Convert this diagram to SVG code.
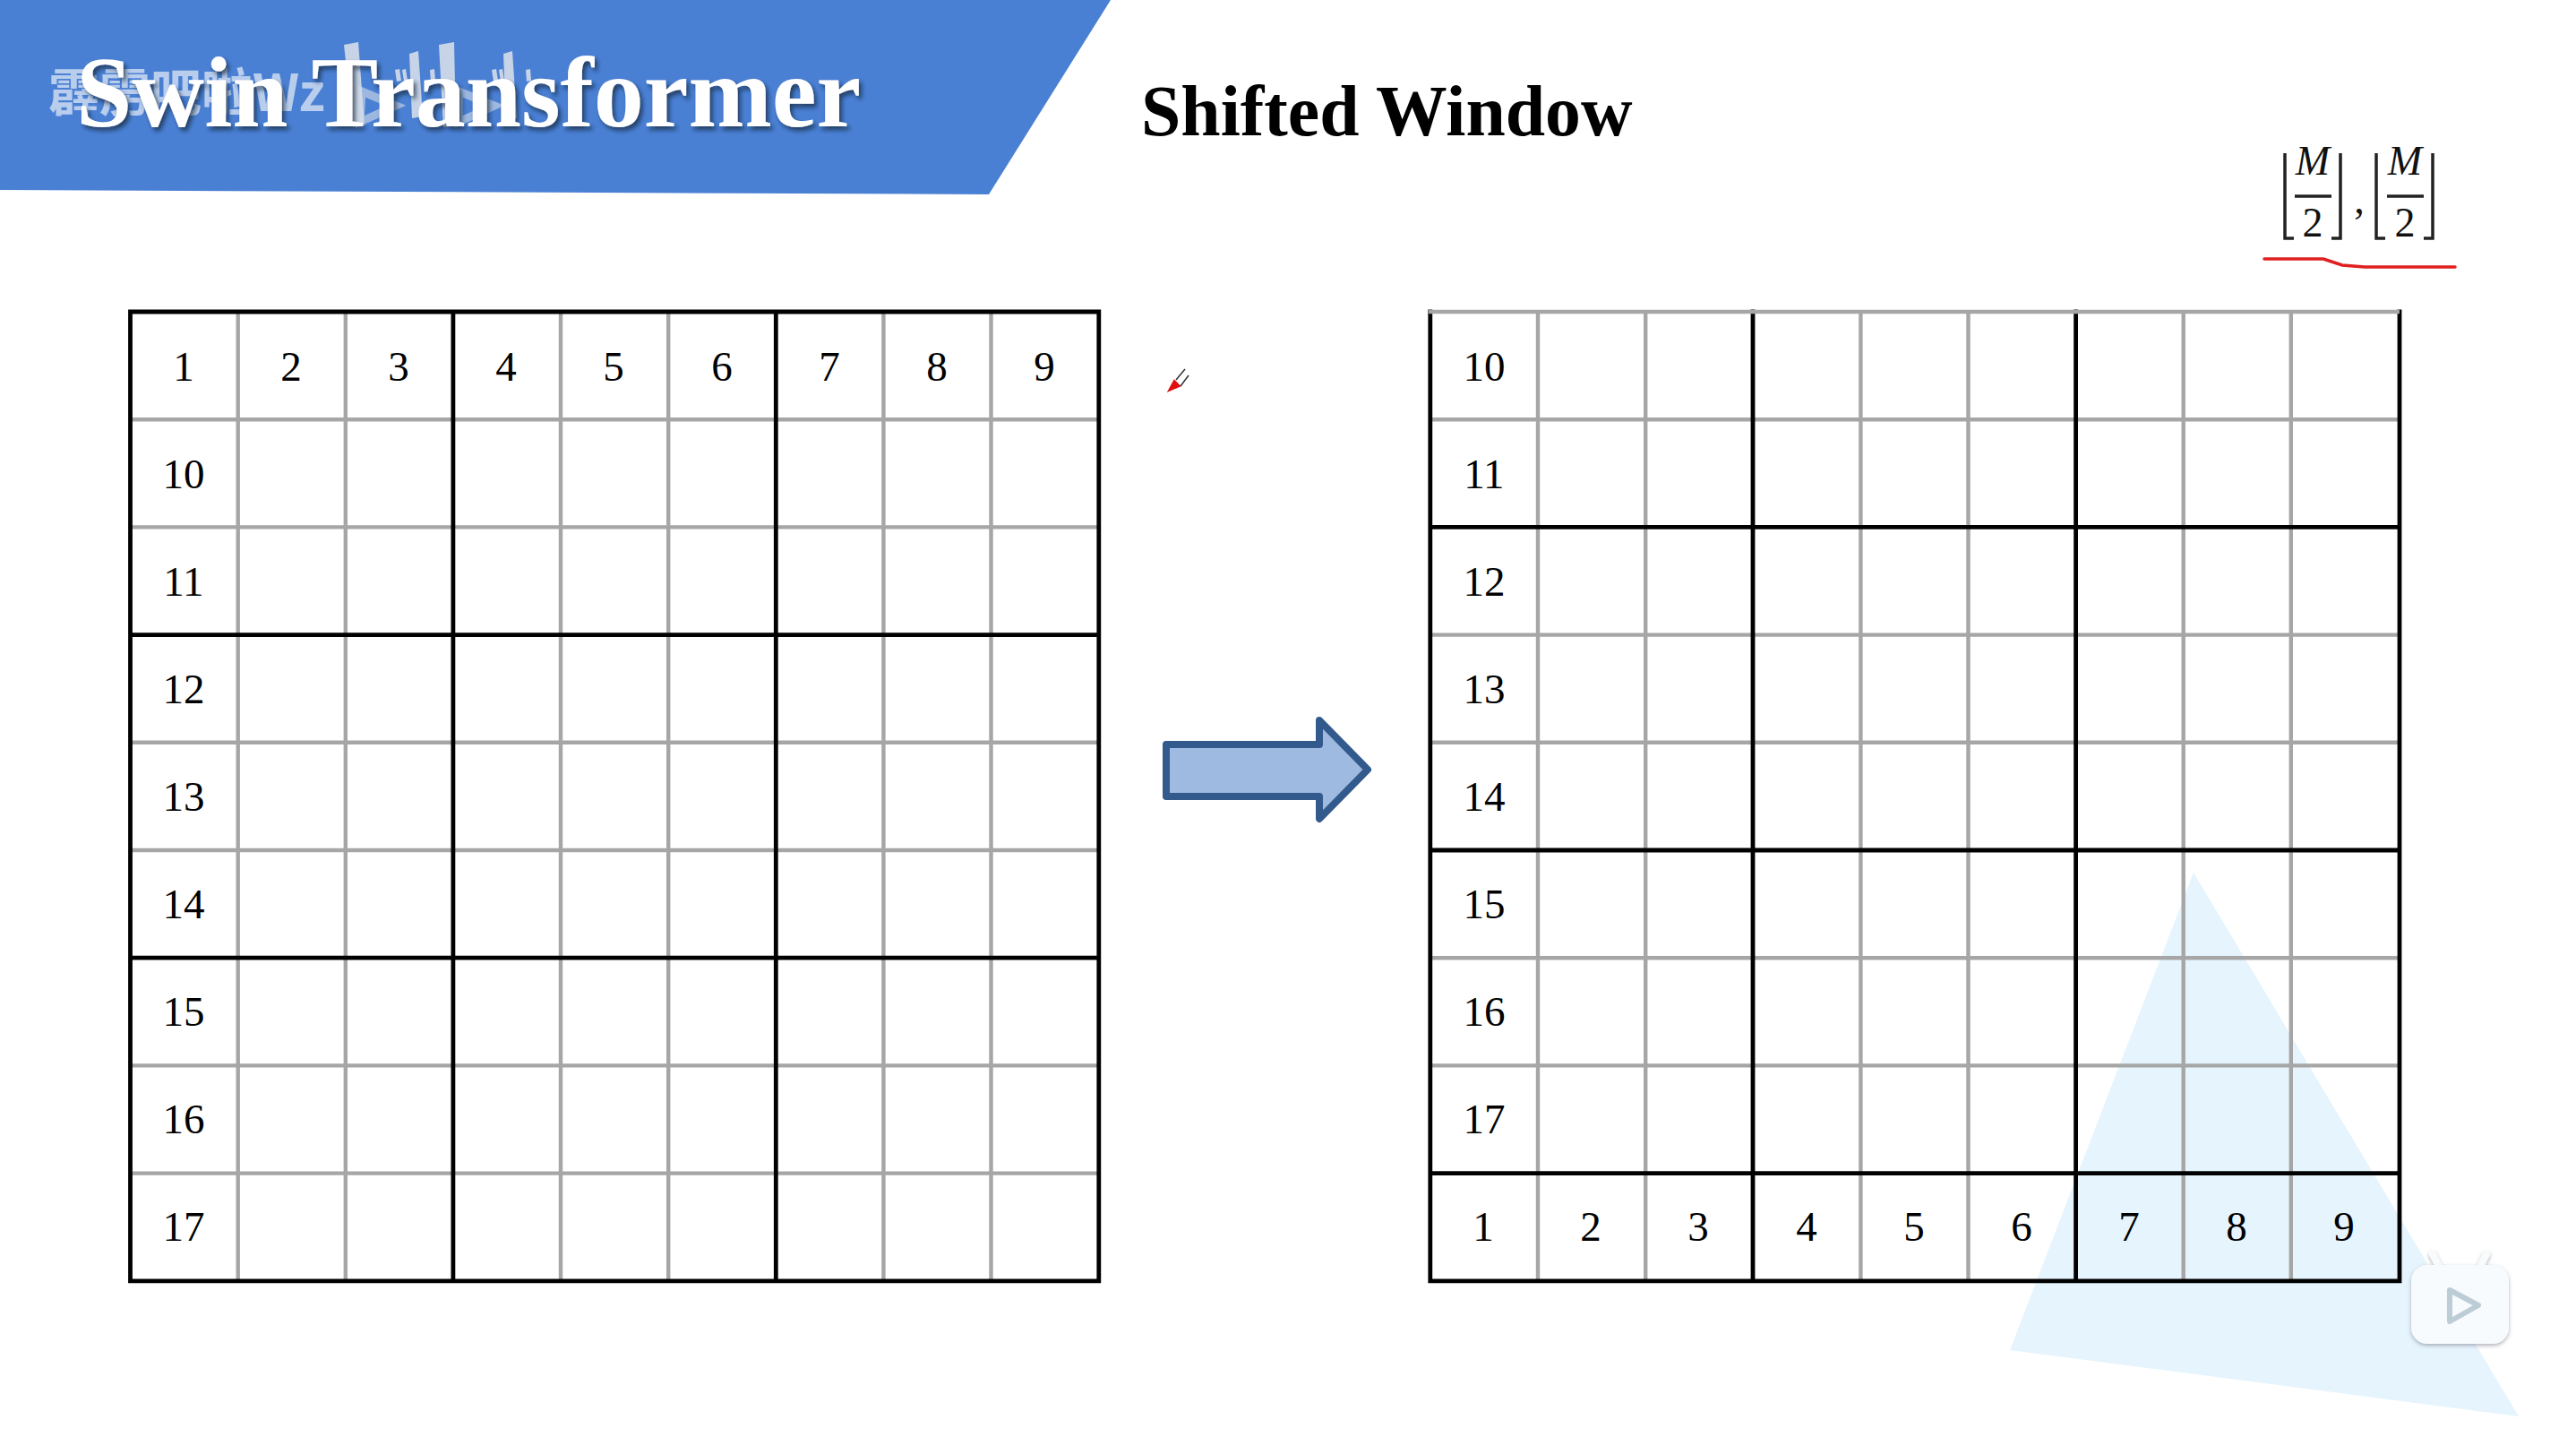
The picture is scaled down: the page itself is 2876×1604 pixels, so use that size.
<svg xmlns="http://www.w3.org/2000/svg" width="2876" height="1604" viewBox="0 0 2876 1604">
<defs>
<style>
.g{stroke:#a6a6a6;stroke-width:4.4;fill:none}
.k{stroke:#000;stroke-width:4.8;fill:none;stroke-linecap:square}
.n{font-family:"Liberation Serif","Times New Roman",serif;font-size:47px;fill:#000;text-anchor:middle}
.m{font-family:"Liberation Serif",serif;font-size:46px;fill:#111;text-anchor:middle}
.i{font-style:italic}
.f{stroke:#222;stroke-width:3.5;fill:none}
</style>
<filter id="sh" x="-5%" y="-20%" width="110%" height="140%"><feDropShadow dx="3" dy="4" stdDeviation="2.5" flood-color="#123" flood-opacity=".7"/></filter>
<filter id="ls" x="-20%" y="-20%" width="140%" height="140%"><feDropShadow dx="0" dy="2" stdDeviation="2" flood-color="#667" flood-opacity=".5"/></filter>
</defs>
<rect width="2876" height="1604" fill="#fff"/>
<path d="M2449 974L2812 1581L2244 1507Z" fill="#e5f4fd"/>
<g id="banner">
<path d="M0 0H1240L1104 217L0 212Z" fill="#4a80d4"/>
<text x="54" y="124" font-family="'Noto Sans CJK SC',sans-serif" font-size="57" font-weight="700" fill="#c6d6f0" opacity=".9">霹雳吧啦Wz</text>
<g fill="#d5dde9" opacity=".9"><path d="M384 50L400 47L407 140L394 142ZM457 60L467 57L472 130L460 132ZM490 50L507 47L509 140L495 142ZM562 60L572 57L577 132L565 134Z"/><path d="M441 78l5-1 2 13-5 1zM449 78l4-1 2 13-4 1zM480 78l5-1 1 13-5 1zM549 78l5-1 2 13-5 1zM557 78l4-1 2 13-4 1zM587 78l5-1 1 13-5 1z"/></g>
<g fill="none" stroke="#d5dde9" stroke-width="9" opacity=".6"><path d="M404 102L442 118L402 136Z"/><path d="M512 102L552 118L512 136Z"/></g>
<text x="85" y="141" font-family="'Liberation Serif',serif" font-size="112" font-weight="700" fill="#fff" filter="url(#sh)">Swin Transformer</text>
</g>
<text id="subtitle" x="1274" y="151" font-family="'Liberation Serif',serif" font-size="79.7" font-weight="700" fill="#000">Shifted Window</text>
<g id="formula">
<path class="f" d="M2551 171V266H2561M2613 171V266H2603M2562 219H2603M2653 171V266H2663M2716 171V266H2706M2665 219H2706"/>
<text class="m i" x="2582" y="195">M</text><text class="m" x="2582" y="264">2</text>
<text class="m" x="2634" y="238">,</text>
<text class="m i" x="2685" y="195">M</text><text class="m" x="2685" y="264">2</text>
</g>
<path id="red-underline" d="M2528 289H2594L2615 296L2640 298H2741" fill="none" stroke="#e02020" stroke-width="3.5" stroke-linecap="round"/>
<g id="pen"><path d="M1305 436L1311 425L1317 431Z" fill="#e01010" stroke="#e01010" stroke-width="2"/><path d="M1313 424L1323 412M1318 431L1327 419" stroke="#333" stroke-width="1.5" fill="none"/></g>
<g id="grid-left">
<path class="g" d="M265.7 348V1430M385.8 348V1430M626 348V1430M746.2 348V1430M986.4 348V1430M1106.5 348V1430M145 468.2H1227M145 588.4H1227M145 828.8H1227M145 949H1227M145 1189.4H1227M145 1309.6H1227"/>
<path class="k" d="M145.5 348H1226.8V1429.8H145.5ZM505.9 348V1429.8M866.3 348V1429.8M145.5 708.6H1226.8M145.5 1069.2H1226.8"/>
<text class="n" x="205" y="425">1</text><text class="n" x="325" y="425">2</text><text class="n" x="445" y="425">3</text><text class="n" x="565" y="425">4</text><text class="n" x="685" y="425">5</text><text class="n" x="806" y="425">6</text><text class="n" x="926" y="425">7</text><text class="n" x="1046" y="425">8</text><text class="n" x="1166" y="425">9</text>
<text class="n" x="205" y="545">10</text><text class="n" x="205" y="665">11</text><text class="n" x="205" y="785">12</text><text class="n" x="205" y="905">13</text><text class="n" x="205" y="1025">14</text><text class="n" x="205" y="1145">15</text><text class="n" x="205" y="1265">16</text><text class="n" x="205" y="1385">17</text>
</g>
<g id="grid-right">
<path class="g" d="M1717 348V1430M1837.2 348V1430M2077.4 348V1430M2197.5 348V1430M2437.7 348V1430M2557.8 348V1430M1596 468.2H2678M1596 708.6H2678M1596 828.8H2678M1596 1069.2H2678M1596 1189.4H2678"/>
<path class="k" d="M1596.8 348V1429.8H2679V348M1957 348V1429.8M2317.6 348V1429.8M1596.8 588.4H2679M1596.8 949H2679M1596.8 1309.6H2679"/>
<path class="g" d="M1595 348H2679"/>
<text class="n" x="1657" y="425">10</text><text class="n" x="1657" y="545">11</text><text class="n" x="1657" y="665">12</text><text class="n" x="1657" y="785">13</text><text class="n" x="1657" y="905">14</text><text class="n" x="1657" y="1025">15</text><text class="n" x="1657" y="1145">16</text><text class="n" x="1657" y="1265">17</text>
<text class="n" x="1656" y="1385">1</text><text class="n" x="1776" y="1385">2</text><text class="n" x="1896" y="1385">3</text><text class="n" x="2017" y="1385">4</text><text class="n" x="2137" y="1385">5</text><text class="n" x="2257" y="1385">6</text><text class="n" x="2377" y="1385">7</text><text class="n" x="2497" y="1385">8</text><text class="n" x="2617" y="1385">9</text>
</g>
<g id="connectors"><path id="arrow" d="M1302 831H1473V804L1527 859L1473 914V889H1302Z" fill="#9fbae0" stroke="#335a8c" stroke-width="8" stroke-linejoin="round"/></g>
<g id="logo" filter="url(#ls)">
<path d="M2722 1412L2716 1400M2770 1412L2776 1400" stroke="#f8fbfc" stroke-width="8" stroke-linecap="round"/>
<rect x="2692" y="1412" width="109" height="88" rx="18" fill="#f8fbfd"/>
<path d="M2735 1440L2767 1457L2735 1475Z" fill="#f8fbfd" stroke="#bccdd6" stroke-width="6" stroke-linejoin="round"/>
</g>
</svg>
